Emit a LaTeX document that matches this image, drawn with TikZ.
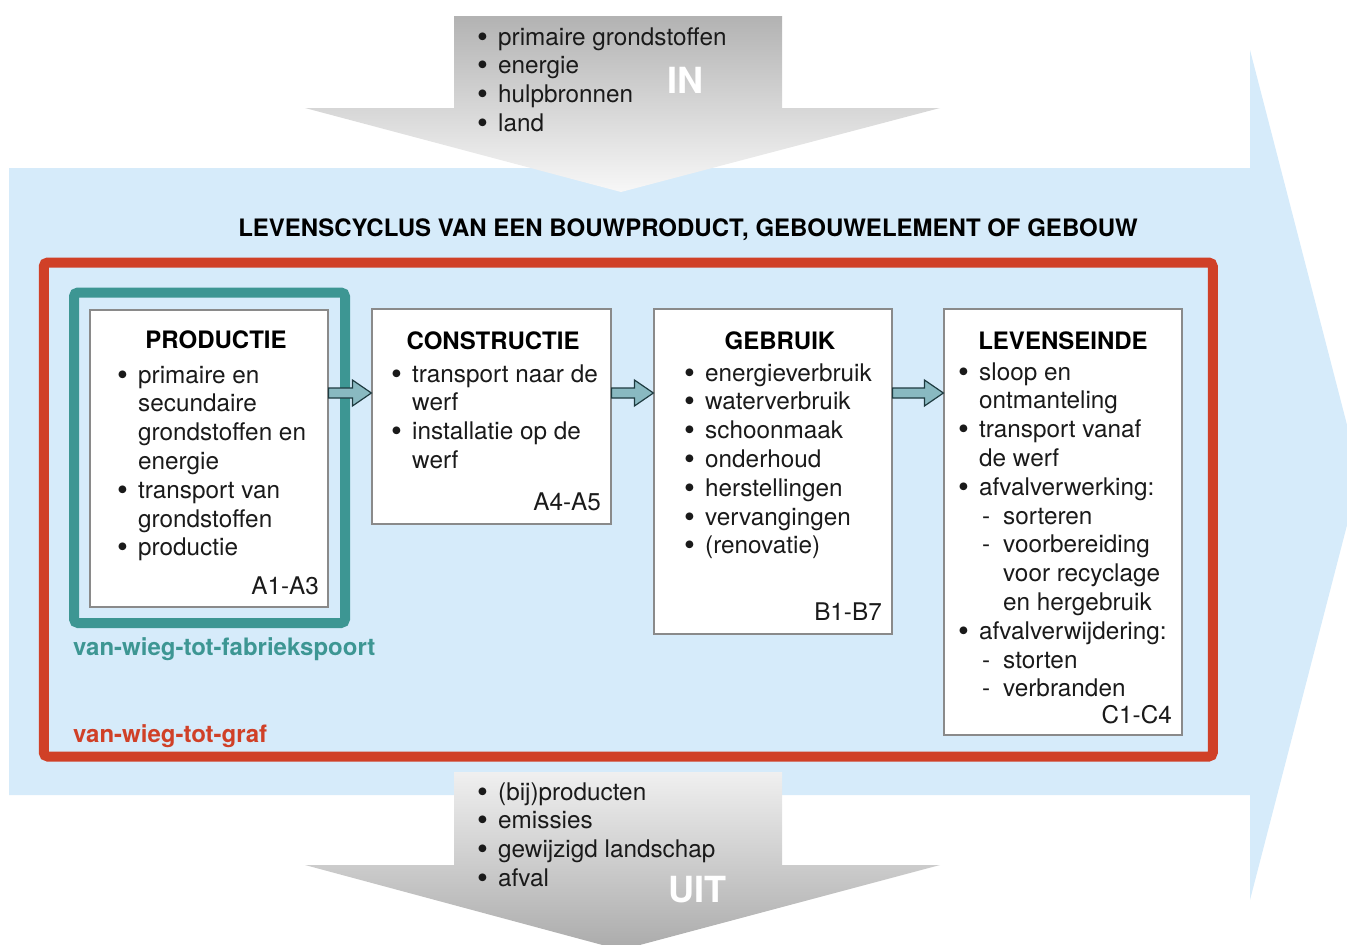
\documentclass[tikz,border=0pt]{standalone}
\usepackage{fontspec}
\setmainfont{TeX Gyre Heros}
\usetikzlibrary{calc}
\definecolor{lifecycle}{HTML}{D6EBFA}
\definecolor{gate}{HTML}{3D9693}
\definecolor{grave}{HTML}{D04027}
\definecolor{linkfill}{HTML}{89B9C1}
\definecolor{linkink}{HTML}{1E3B40}
\definecolor{boxline}{HTML}{8A8A8A}
\definecolor{ink}{HTML}{1A1A1A}

\newcommand\bul{\makebox[21pt][l]{\raisebox{-2pt}{\fontsize{31}{0}\selectfont\textbullet}}}
\newcommand\bulcont{\hspace*{21pt}}
\newcommand\subbul{\hspace*{3pt}\makebox[21pt][l]{-}}
\newcommand\subcont{\hspace*{24pt}}
% block arrow from one stage to the next, all on the same row
\newcommand\linkarrow[2]{%
  \draw[link] (#1.east |- 0,-388) -- ($(#2.west |- 0,-388)+(-19,0)$) -- ++(0,8)
    -- (#2.west |- 0,-393) -- ++(-19,-13) -- ++(0,8) -- (#1.east |- 0,-398) -- cycle;}

\begin{document}
\begin{tikzpicture}[
  x=1pt,y=1pt,font=\fontsize{24.3}{28.8}\selectfont,
  stage/.style={draw=boxline,line width=1.2pt,fill=white,inner sep=0pt,minimum width=238},
  frame/.style={draw=#1,line width=10pt,rounded corners=4pt,inner sep=0pt},
  heading/.style={font=\bfseries\fontsize{24}{28.8}\selectfont,anchor=base,inner sep=0pt},
  items/.style={anchor=base west,align=left,inner sep=0pt,text=ink},
  module/.style={anchor=base east,inner sep=0pt,text=ink},
  flowword/.style={font=\bfseries\fontsize{36}{40}\selectfont,text=white,anchor=base,inner sep=0pt},
  boundlabel/.style={font=\bfseries\fontsize{24}{28.8}\selectfont,anchor=base west,inner sep=0pt},
  link/.style={draw=linkink,fill=linkfill,line width=1.2pt,line join=miter}
]
\path[use as bounding box] (0,0) rectangle (1347,-945);

% big arrow for the whole life cycle
\fill[lifecycle] (9,-168) -- (1250,-168) -- (1250,-50) -- (1360,-475)
  -- (1250,-900) -- (1250,-795) -- (9,-795) -- cycle;

% in- and outgoing flows (lists are placed by their last baseline)
\shade[top color=black!30,bottom color=black!3] (454,-16) -- (782,-16) -- (782,-108)
  -- (940,-108) -- (621,-192) -- (305,-108) -- (454,-108) -- cycle;
\node[items] (inlist) at (477,-131.4) {\bul primaire grondstoffen\\\bul energie\\\bul hulpbronnen\\\bul land};
\node[flowword] (in) at (685,-93) {IN};

\shade[top color=black!6,bottom color=black!33] (454,-772) -- (782,-772) -- (782,-865)
  -- (940,-865) -- (621,-950) -- (305,-865) -- (454,-865) -- cycle;
\node[items] (outlist) at (477,-886.4) {\bul (bij)producten\\\bul emissies\\\bul gewijzigd landschap\\\bul afval};
\node[flowword] (out) at (697,-902) {UIT};

\node[heading] (title) at (688,-236) {LEVENSCYCLUS VAN EEN BOUWPRODUCT, GEBOUWELEMENT OF GEBOUW};

% system boundaries
\node[frame=grave,minimum width=1169,minimum height=494] (grave) at (628.25,-509.5) {};
\node[boundlabel,text=grave] (gravelabel) at (73,-742) {van-wieg-tot-graf};
\node[frame=gate,minimum width=271,minimum height=330.5] (gate) at (209.5,-457.75) {};
\node[boundlabel,text=gate] (gatelabel) at (73,-655) {van-wieg-tot-fabriekspoort};

% stages
\node[stage,minimum height=297] (prod) at (209,-458.5) {};
\node[heading] (prodhead) at (216,-348) {PRODUCTIE};
\node[items] (prodlist) at (117,-555.8) {\bul primaire en\\\bulcont secundaire\\\bulcont grondstoffen en\\
  \bulcont energie\\\bul transport van\\\bulcont grondstoffen\\\bul productie};
\node[module] (prodcode) at (319,-594) {A1-A3};

\node[stage,minimum width=239,minimum height=215] (cons) at (491.5,-416.5) {};
\node[heading] (conshead) at (493,-349) {CONSTRUCTIE};
\node[items] (conslist) at (391,-468.4) {\bul transport naar de\\\bulcont werf\\\bul installatie op de\\\bulcont werf};
\node[module] (conscode) at (601,-510) {A4-A5};

\node[stage,minimum height=325] (use) at (773,-471.5) {};
\node[heading] (usehead) at (780,-349) {GEBRUIK};
\node[items] (uselist) at (684,-553.8) {\bul energieverbruik\\\bul waterverbruik\\\bul schoonmaak\\
  \bul onderhoud\\\bul herstellingen\\\bul vervangingen\\\bul (renovatie)};
\node[module] (usecode) at (882,-620) {B1-B7};

\node[stage,minimum height=426] (end) at (1063,-522) {};
\node[heading] (endhead) at (1063,-349) {LEVENSEINDE};
\node[items] (endlist) at (958,-696.8) {\bul sloop en\\\bulcont ontmanteling\\\bul transport vanaf\\\bulcont de werf\\
  \bul afvalverwerking:\\\bulcont\subbul sorteren\\\bulcont\subbul voorbereiding\\\bulcont\subcont voor recyclage\\
  \bulcont\subcont en hergebruik\\\bul afvalverwijdering:\\\bulcont\subbul storten\\\bulcont\subbul verbranden};
\node[module] (endcode) at (1172,-723) {C1-C4};

\linkarrow{prod}{cons}
\linkarrow{cons}{use}
\linkarrow{use}{end}
\end{tikzpicture}
\end{document}
